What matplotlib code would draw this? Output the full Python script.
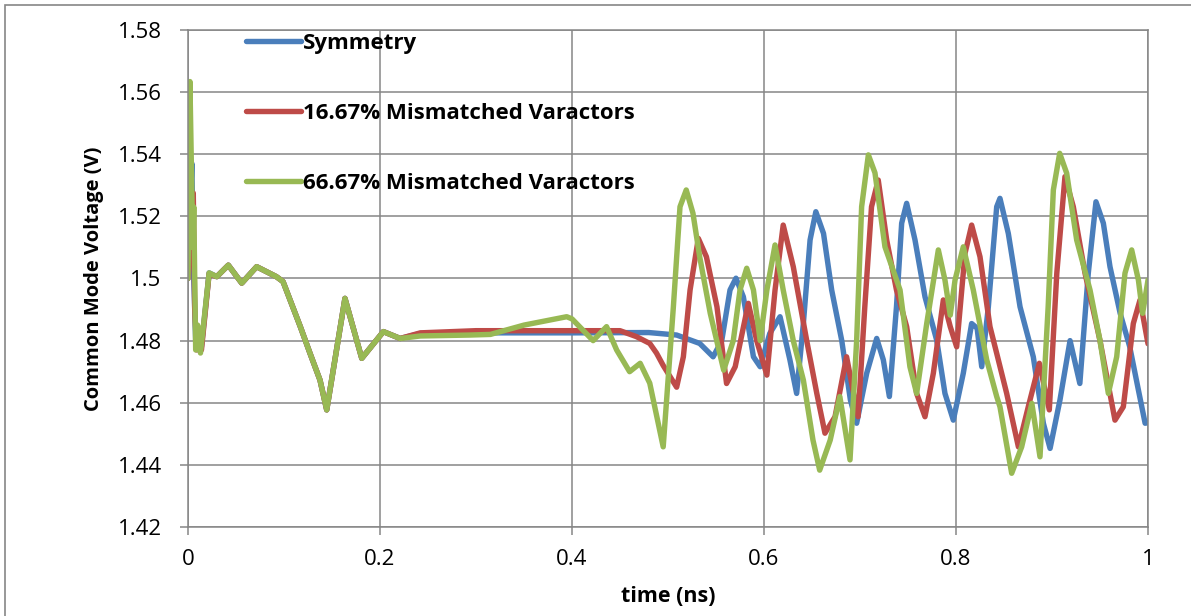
import numpy as np
import matplotlib.pyplot as plt
from matplotlib.patches import Rectangle

# traced data (time in ns, voltage in V)
t_sym = [0, 0.002, 0.004, 0.006, 0.008, 0.011, 0.014, 0.022, 0.030, 0.042, 0.056, 0.0715,
         0.092, 0.099, 0.117, 0.127, 0.1375, 0.1445, 0.1635, 0.181, 0.2035, 0.221, 0.242,
         0.30, 0.40, 0.48, 0.509, 0.533, 0.547, 0.556, 0.5646, 0.5708, 0.5785, 0.589, 0.596,
         0.606, 0.6167, 0.627, 0.634, 0.641, 0.648, 0.654, 0.662, 0.6705, 0.681, 0.690,
         0.6965, 0.707, 0.7174, 0.7243, 0.7306, 0.738, 0.7434, 0.7486, 0.7573, 0.7677,
         0.780, 0.7885, 0.7972, 0.8076, 0.8163, 0.8220, 0.8268, 0.8337, 0.8424, 0.8458,
         0.8545, 0.8667, 0.8805, 0.891, 0.898, 0.9083, 0.9188, 0.929, 0.9378, 0.9458,
         0.9535, 0.9604, 0.971, 0.981, 0.990, 0.997, 1.0]
v_sym = [1.500, 1.520, 1.537, 1.500, 1.480, 1.477, 1.478, 1.5018, 1.5006, 1.5043, 1.4985,
         1.5038, 1.5006, 1.499, 1.4845, 1.476, 1.4673, 1.4577, 1.4936, 1.4743, 1.4829,
         1.4807, 1.4823, 1.4825, 1.4825, 1.4826, 1.4818, 1.4791, 1.4748, 1.480, 1.4963,
         1.5001, 1.4941, 1.4748, 1.4716, 1.4823, 1.4877, 1.4738, 1.463, 1.4855, 1.5124,
         1.5215, 1.5145, 1.4963, 1.480, 1.4609, 1.4534, 1.4695, 1.4807, 1.4738, 1.462,
         1.4909, 1.5178, 1.5242, 1.5124, 1.4941, 1.480, 1.463, 1.4544, 1.4695, 1.4855,
         1.4840, 1.4716, 1.4909, 1.5231, 1.5258, 1.5145, 1.4909, 1.4748, 1.4534, 1.4453,
         1.4609, 1.480, 1.4662, 1.5017, 1.5247, 1.5178, 1.5038, 1.4888, 1.478, 1.4641,
         1.4534, 1.4536]

t_r16 = [0, 0.003, 0.0055, 0.007, 0.009, 0.012, 0.014, 0.022, 0.030, 0.042, 0.056, 0.0715,
         0.092, 0.099, 0.117, 0.127, 0.1375, 0.1445, 0.1635, 0.181, 0.2035, 0.221, 0.242,
         0.30, 0.45, 0.467, 0.481, 0.488, 0.495, 0.509, 0.516, 0.523, 0.5316, 0.540, 0.551,
         0.561, 0.570, 0.5837, 0.5924, 0.603, 0.6115, 0.620, 0.6305, 0.6445, 0.655, 0.6635,
         0.674, 0.686, 0.698, 0.705, 0.712, 0.719, 0.7278, 0.738, 0.7486, 0.759, 0.7677,
         0.7764, 0.7868, 0.794, 0.8007, 0.8094, 0.8163, 0.825, 0.8354, 0.8424, 0.8528,
         0.865, 0.8753, 0.8868, 0.8972, 0.905, 0.9135, 0.9222, 0.9344, 0.950, 0.9656,
         0.9743, 0.9847, 0.9917, 1.0]
v_r16 = [1.500, 1.515, 1.5275, 1.490, 1.477, 1.480, 1.477, 1.5015, 1.5006, 1.5043, 1.4985,
         1.5038, 1.5006, 1.499, 1.4845, 1.476, 1.4673, 1.4577, 1.4936, 1.4743, 1.4829,
         1.4807, 1.4825, 1.4832, 1.4832, 1.4813, 1.4791, 1.4760, 1.4720, 1.4650, 1.4748,
         1.4963, 1.5129, 1.5070, 1.4909, 1.4662, 1.4716, 1.4920, 1.4800, 1.4689, 1.4963,
         1.5172, 1.5038, 1.4800, 1.4630, 1.4502, 1.4555, 1.4748, 1.4555, 1.4909, 1.5231,
         1.5317, 1.5124, 1.4963, 1.4845, 1.4630, 1.4555, 1.4695, 1.4931, 1.4845, 1.4780,
         1.5081, 1.5172, 1.5070, 1.4845, 1.4759, 1.4630, 1.4458, 1.4587, 1.4727, 1.4577,
         1.5017, 1.5328, 1.5231, 1.5017, 1.4800, 1.4544, 1.4587, 1.4855, 1.4931, 1.4790]

t_r67 = [0, 0.002, 0.005, 0.006, 0.008, 0.010, 0.013, 0.022, 0.030, 0.042, 0.056, 0.0715,
         0.092, 0.099, 0.117, 0.127, 0.1375, 0.1445, 0.1635, 0.181, 0.2035, 0.221, 0.242,
         0.294, 0.315, 0.35, 0.3945, 0.40, 0.422, 0.436, 0.4465, 0.460, 0.471, 0.481, 0.495,
         0.5056, 0.5125, 0.519, 0.526, 0.533, 0.544, 0.558, 0.568, 0.575, 0.582, 0.589,
         0.596, 0.603, 0.6115, 0.620, 0.6305, 0.641, 0.651, 0.658, 0.669, 0.679, 0.6896,
         0.6965, 0.7017, 0.7087, 0.7156, 0.726, 0.7417, 0.752, 0.759, 0.7695, 0.7816,
         0.7885, 0.794, 0.799, 0.8076, 0.818, 0.832, 0.8424, 0.8458, 0.858, 0.8684, 0.879,
         0.8875, 0.896, 0.9014, 0.908, 0.9153, 0.9257, 0.9396, 0.950, 0.9587, 0.9674, 0.976,
         0.983, 0.990, 0.9944, 1.0]
v_r67 = [1.500, 1.5634, 1.510, 1.523, 1.477, 1.485, 1.476, 1.5018, 1.5006, 1.5043, 1.4985,
         1.5038, 1.5006, 1.499, 1.4845, 1.476, 1.4673, 1.4577, 1.4936, 1.4743, 1.4829,
         1.4807, 1.4815, 1.4818, 1.4820, 1.4850, 1.4877, 1.4870, 1.4800, 1.4845, 1.4770,
         1.4700, 1.4727, 1.4663, 1.4458, 1.4909, 1.5231, 1.5285, 1.5210, 1.5070, 1.4888,
         1.4705, 1.4800, 1.4963, 1.5033, 1.4963, 1.4800, 1.4963, 1.5108, 1.4963, 1.4800,
         1.4673, 1.4480, 1.4383, 1.4480, 1.4620, 1.4416, 1.4800, 1.5231, 1.5398, 1.5340,
         1.5102, 1.4963, 1.4716, 1.4630, 1.4855, 1.5092, 1.4995, 1.4882, 1.4995, 1.5102,
         1.4963, 1.4738, 1.4620, 1.4587, 1.4373, 1.4458, 1.4598, 1.4426, 1.4909, 1.5285,
         1.5403, 1.5339, 1.5124, 1.4963, 1.4800, 1.4630, 1.4748, 1.5017, 1.5092, 1.4995,
         1.4888, 1.4995]

labels = ["Symmetry", "16.67% Mismatched Varactors", "66.67% Mismatched Varactors"]
colors = ["#4A7EBB", "#BE4B48", "#98B954"]

plt.rcParams['font.family'] = ['Open Sans', 'DejaVu Sans']

fig = plt.figure(figsize=(11.91, 6.16), dpi=100)
ax = fig.add_axes([188/1191, 1-527/616, 960/1191, 497/616])

style = dict(lw=3.9, solid_capstyle='round', solid_joinstyle='round')
ax.plot(t_sym, v_sym, color=colors[0], label=labels[0], **style)
ax.plot(t_r16, v_r16, color=colors[1], label=labels[1], **style)
ax.plot(t_r67, v_r67, color=colors[2], label=labels[2], **style)

ax.set_xlim(0, 1)
ax.set_ylim(1.42, 1.58)
ax.set_xticks([0, 0.2, 0.4, 0.6, 0.8, 1])
ax.set_xticklabels(["0", "0.2", "0.4", "0.6", "0.8", "1"])
ax.set_yticks(np.arange(1.42, 1.5801, 0.02))
ax.set_yticklabels(["%g" % round(v, 2) for v in np.arange(1.42, 1.5801, 0.02)])
ax.grid(True, color="#868686", lw=1.1)
ax.set_axisbelow(True)
for s in ax.spines.values():
    s.set_color("#868686")
    s.set_linewidth(1.1)
ax.tick_params(colors="#868686", labelcolor="black", labelsize=16, length=6, width=1.1)
ax.tick_params(axis='x', pad=10)
ax.tick_params(axis='y', pad=13)

ax.set_xlabel("time (ns)", fontsize=15.5, fontweight='bold', labelpad=11)
ax.set_ylabel("Common Mode Voltage (V)", fontsize=14.5, fontweight='bold', labelpad=10)

ax.legend(loc='upper left', bbox_to_anchor=(0.060, 0.994), frameon=False,
          prop={'size': 16, 'weight': 'bold'}, handlelength=2.5, handletextpad=0.08,
          labelspacing=2.21, borderpad=0, borderaxespad=0)

fig.add_artist(Rectangle((5/1191, -0.1), 1.2, 1.1 - 5/616, transform=fig.transFigure,
                         fill=False, edgecolor="#868686", lw=1.2))

fig.savefig("out.png", dpi=100)
